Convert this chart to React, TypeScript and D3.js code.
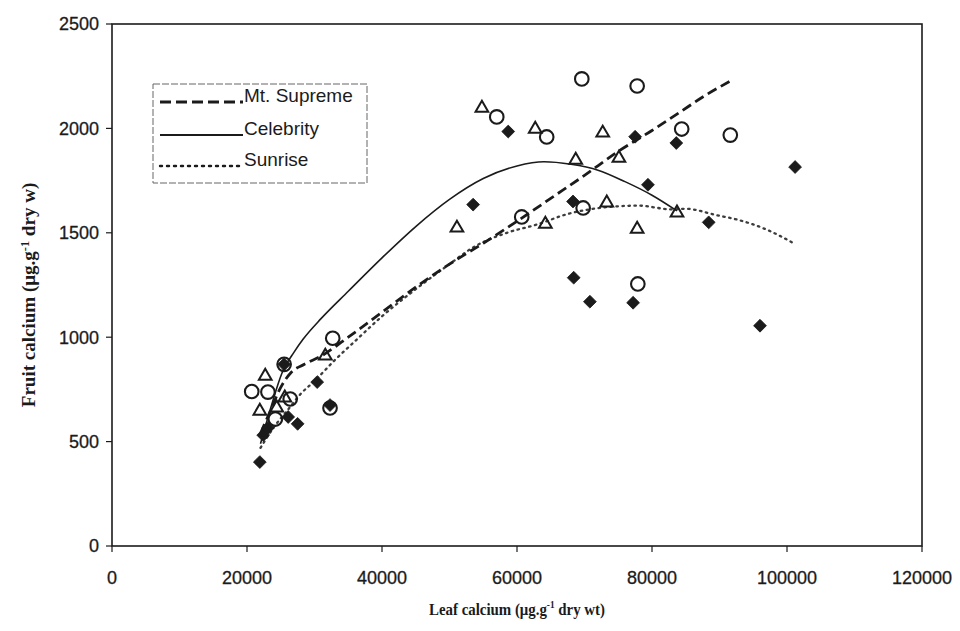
import React from "react";
import * as d3 from "d3";

// ---- data ----
const xTicks = [0, 20000, 40000, 60000, 80000, 100000, 120000];
const yTicks = [0, 500, 1000, 1500, 2000, 2500];

// Sunrise – filled diamonds
const sunriseX = [21900, 22400, 23100, 25500, 26100, 27500, 30400, 32300, 53500, 58700, 68300, 68400, 70800, 77200, 77500, 79400, 83600, 88400, 96000, 101200];
const sunriseY = [402, 531, 565, 870, 618, 585, 785, 675, 1635, 1985, 1650, 1285, 1170, 1165, 1960, 1730, 1930, 1550, 1055, 1815];

// Mt. Supreme – open circles
const supremeX = [20700, 23100, 24200, 25500, 26400, 32300, 32700, 57000, 60700, 64400, 69600, 69800, 77800, 77900, 84400, 91600];
const supremeY = [740, 737, 608, 870, 704, 661, 995, 2055, 1576, 1959, 2237, 1619, 2203, 1255, 1997, 1968];

// Celebrity – open triangles
const celebX = [21900, 22700, 24400, 25600, 31600, 51100, 54800, 62700, 64200, 68700, 72700, 73300, 75100, 77800, 83700];
const celebY = [651, 819, 666, 714, 915, 1528, 2102, 2002, 1547, 1853, 1983, 1648, 1863, 1523, 1600];

// trend lines
const supremeLineX = [22000, 23500, 25000, 26500, 28500, 31000, 35000, 40000, 45000, 50000, 55000, 60000, 65000, 70000, 75000, 80000, 84000, 88000, 91500];
const supremeLineY = [540, 650, 760, 830, 870, 910, 1000, 1120, 1240, 1350, 1450, 1555, 1665, 1775, 1890, 1990, 2075, 2160, 2225];

const celebLineX = [22000, 23500, 25200, 27000, 28300, 31000, 35000, 40000, 45000, 50000, 55000, 60000, 64000, 68000, 72000, 76000, 80000, 83700];
const celebLineY = [490, 660, 830, 930, 990, 1090, 1220, 1380, 1530, 1660, 1760, 1820, 1840, 1828, 1800, 1745, 1680, 1605];

const sunriseLineX = [22000, 24000, 26000, 28000, 30000, 33000, 36300, 40000, 45000, 50000, 53500, 58500, 63000, 67500, 73000, 78000, 83000, 85000, 89500, 93000, 97000, 101000];
const sunriseLineY = [470, 570, 650, 730, 790, 890, 990, 1100, 1230, 1350, 1430, 1500, 1540, 1590, 1622, 1630, 1612, 1615, 1585, 1560, 1515, 1450];

const legendNames = ["Mt. Supreme", "Celebrity", "Sunrise"];

// ---- layout ----
const W = 960, H = 631;
const left = 112, right = 922, top = 24, bottom = 546;
const INK = "#1b1b1b";

export default function App() {
  const x = d3.scaleLinear().domain([0, 120000]).range([left, right]);
  const y = d3.scaleLinear().domain([0, 2500]).range([bottom, top]);

  const mk = (xs: number[], ys: number[]) => xs.map((v, i) => [v, ys[i]] as [number, number]);
  const line = d3.line<[number, number]>().x(d => x(d[0])).y(d => y(d[1])).curve(d3.curveMonotoneX);

  const diamond = d3.symbol().type(d3.symbolDiamond2).size(105)();
  const tri = d3.symbol().type(d3.symbolTriangle2).size(115)();

  const tickFont = { fontFamily: "'Liberation Sans', Arial, sans-serif", fontSize: 18, fill: INK, stroke: INK, strokeWidth: 0.3 } as const;
  const serif = "'Liberation Serif', 'Times New Roman', serif";
  const legendStyles = [
    { dash: "11,5", width: 2.8, cap: "butt" },
    { dash: "none", width: 1.8, cap: "butt" },
    { dash: "2,5", width: 2.4, cap: "round" },
  ];

  return (
    <svg width={W} height={H} style={{ position: "absolute", left: 0, top: 0, background: "#fff" }}>
      <rect x={0} y={0} width={W} height={H} fill="#fff" />
      {/* plot frame */}
      <rect x={left} y={top} width={right - left} height={bottom - top} fill="none" stroke={INK} strokeWidth={1.6} />
      {/* y ticks */}
      {yTicks.map(t => (
        <g key={"y" + t}>
          <line x1={left - 6} x2={left} y1={y(t)} y2={y(t)} stroke={INK} strokeWidth={1.2} />
          <text x={left - 13} y={y(t)} dy="0.36em" textAnchor="end" {...tickFont}>{t}</text>
        </g>
      ))}
      {/* x ticks */}
      {xTicks.map(t => (
        <g key={"x" + t}>
          <line x1={x(t)} x2={x(t)} y1={bottom} y2={bottom + 6} stroke={INK} strokeWidth={1.2} />
          <text x={x(t)} y={bottom + 38} textAnchor="middle" {...tickFont}>{t}</text>
        </g>
      ))}
      {/* axis titles */}
      <g transform="translate(517,615) scale(0.93,1.1)">
        <text x={0} y={0} textAnchor="middle" fontFamily={serif} fontWeight="bold" fontSize={16} fill={INK}>
          Leaf calcium (μg.g<tspan dy="-6" fontSize={10}>-1</tspan><tspan dy="6"> dry wt)</tspan>
        </text>
      </g>
      <g transform={`translate(35,${(top + bottom) / 2 + 10}) rotate(-90) scale(1.12,1.05)`}>
        <text x={0} y={0} textAnchor="middle" fontFamily={serif} fontWeight="bold" fontSize={17} fill={INK}>
          Fruit calcium (μg.g<tspan dy="-6" fontSize={11}>-1</tspan><tspan dy="6"> dry w)</tspan>
        </text>
      </g>

      {/* trend lines */}
      <path d={line(mk(supremeLineX, supremeLineY)) || ""} fill="none" stroke={INK} strokeWidth={2.8} strokeDasharray="10,5" />
      <path d={line(mk(celebLineX, celebLineY)) || ""} fill="none" stroke={INK} strokeWidth={1.6} />
      <path d={line(mk(sunriseLineX, sunriseLineY)) || ""} fill="none" stroke={INK} strokeWidth={2.3} strokeDasharray="1.5,4.5" strokeLinecap="round" opacity={0.85} />

      {/* markers */}
      {mk(celebX, celebY).map((d, i) => (
        <path key={"t" + i} d={tri || ""} transform={`translate(${x(d[0])},${y(d[1]) + 1})`} fill="none" stroke={INK} strokeWidth={2} strokeLinejoin="miter" />
      ))}
      {mk(supremeX, supremeY).map((d, i) => (
        <circle key={"c" + i} cx={x(d[0])} cy={y(d[1])} r={6.8} fill="none" stroke={INK} strokeWidth={2.1} />
      ))}
      {mk(sunriseX, sunriseY).map((d, i) => (
        <path key={"d" + i} d={diamond || ""} transform={`translate(${x(d[0])},${y(d[1])})`} fill={INK} stroke={INK} strokeWidth={0.8} />
      ))}

      {/* legend */}
      <rect x={153} y={84} width={214} height={99} fill="#fff" stroke="#666" strokeWidth={1} strokeDasharray="7,2" />
      {legendNames.map((n, i) => {
        const ly = [102, 135, 166][i];
        const s = legendStyles[i];
        return (
          <g key={n}>
            <line x1={160} x2={243} y1={ly} y2={ly} stroke={INK} strokeWidth={s.width} strokeDasharray={s.dash} strokeLinecap={s.cap as any} />
            <text x={244} y={ly} dy="-0.02em" fontFamily="'Liberation Sans', Arial, sans-serif" fontSize={19} fill={INK}>{n}</text>
          </g>
        );
      })}
    </svg>
  );
}
